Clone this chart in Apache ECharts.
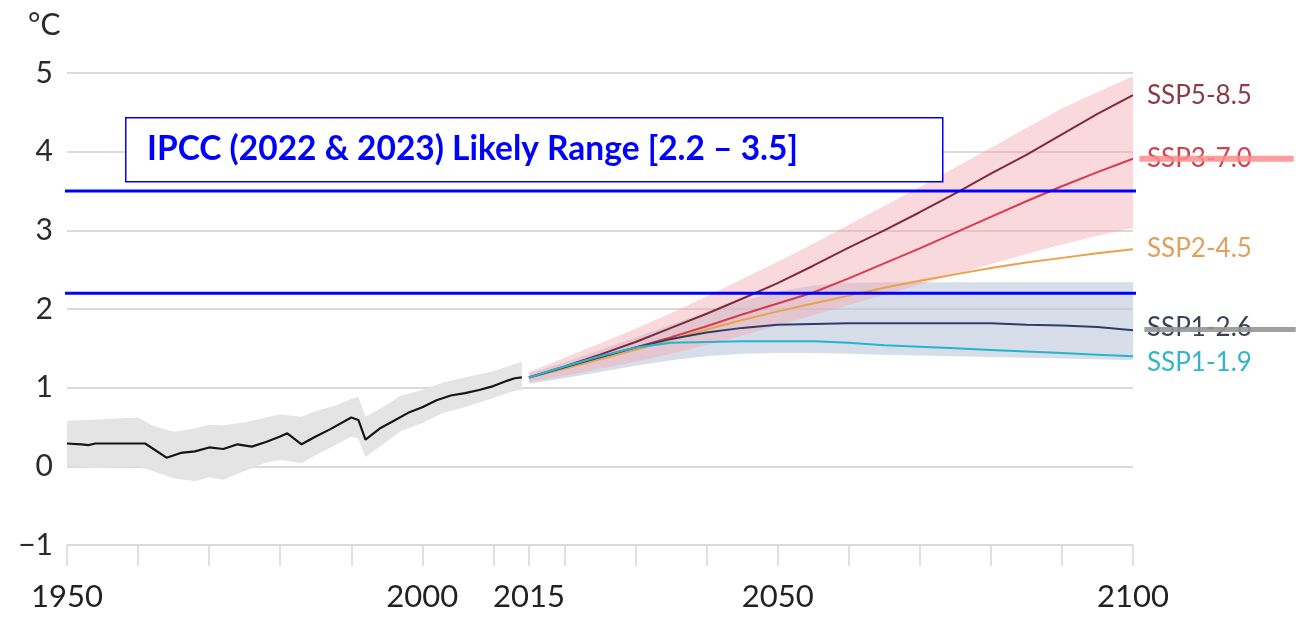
<!DOCTYPE html>
<html>
<head>
<meta charset="utf-8">
<title>Global surface temperature change</title>
<script src="https://cdn.jsdelivr.net/npm/echarts@6/dist/echarts.min.js"></script>
<style>
  html, body { margin: 0; padding: 0; background: #ffffff; }
  #chart { width: 1312px; height: 620px; }
</style>
</head>
<body>
<div id="chart"></div>
<script>
// Observed record, 1950-2014 (°C)
const histYears = [1950, 1952, 1953, 1954, 1956, 1958, 1961, 1964, 1966, 1968, 1970, 1972, 1974, 1976, 1978, 1980, 1981, 1983, 1985, 1987, 1990, 1991, 1992, 1994, 1996, 1998, 2000, 2002, 2004, 2006, 2008, 2010, 2012, 2013, 2014];
const histValues = [0.29, 0.28, 0.27, 0.29, 0.29, 0.29, 0.29, 0.11, 0.17, 0.19, 0.24, 0.22, 0.28, 0.25, 0.31, 0.38, 0.42, 0.28, 0.38, 0.47, 0.62, 0.59, 0.34, 0.48, 0.58, 0.68, 0.75, 0.84, 0.90, 0.93, 0.97, 1.02, 1.09, 1.12, 1.13];

// Observed uncertainty band
const histBandYears = [1950, 1955, 1960, 1962, 1965, 1968, 1970, 1972, 1975, 1978, 1980, 1983, 1985, 1988, 1990, 1991, 1992, 1994, 1997, 2000, 2003, 2006, 2010, 2013, 2014];
const histBandLow  = [0.00, -0.02, 0.00, -0.06, -0.15, -0.19, -0.14, -0.17, -0.06, 0.05, 0.08, 0.04, 0.14, 0.28, 0.38, 0.35, 0.12, 0.25, 0.45, 0.55, 0.68, 0.75, 0.87, 0.96, 0.97];
const histBandHigh = [0.58, 0.60, 0.62, 0.52, 0.44, 0.48, 0.53, 0.52, 0.56, 0.62, 0.66, 0.63, 0.70, 0.78, 0.86, 0.88, 0.63, 0.73, 0.90, 0.97, 1.07, 1.13, 1.21, 1.30, 1.33];

// Scenario projections, 2015-2100 (°C)
const futureYears = [2015, 2020, 2025, 2030, 2035, 2040, 2045, 2050, 2055, 2060, 2065, 2070, 2075, 2080, 2085, 2090, 2095, 2100];
const ssp585 = [1.13, 1.27, 1.42, 1.58, 1.76, 1.94, 2.13, 2.33, 2.55, 2.78, 3.00, 3.23, 3.47, 3.72, 3.96, 4.22, 4.48, 4.72];
const ssp370 = [1.13, 1.25, 1.38, 1.51, 1.64, 1.78, 1.93, 2.07, 2.21, 2.39, 2.58, 2.77, 2.97, 3.17, 3.37, 3.56, 3.74, 3.91];
const ssp245 = [1.13, 1.24, 1.36, 1.48, 1.61, 1.74, 1.86, 1.97, 2.07, 2.17, 2.27, 2.36, 2.44, 2.52, 2.59, 2.65, 2.71, 2.76];
const ssp126 = [1.13, 1.26, 1.39, 1.51, 1.62, 1.70, 1.76, 1.80, 1.81, 1.82, 1.82, 1.82, 1.82, 1.82, 1.80, 1.79, 1.77, 1.73];
const ssp119 = [1.13, 1.27, 1.40, 1.51, 1.57, 1.58, 1.59, 1.59, 1.59, 1.57, 1.54, 1.52, 1.50, 1.48, 1.46, 1.44, 1.42, 1.40];

// Very likely ranges: high-emission (red) and low-emission (blue-grey)
const highBandLow  = [1.07, 1.15, 1.24, 1.33, 1.43, 1.54, 1.66, 1.79, 1.92, 2.05, 2.18, 2.31, 2.44, 2.57, 2.70, 2.82, 2.93, 3.03];
const highBandHigh = [1.20, 1.38, 1.56, 1.75, 1.95, 2.16, 2.38, 2.60, 2.83, 3.07, 3.31, 3.55, 3.80, 4.05, 4.30, 4.55, 4.76, 4.96];
const lowBandLow   = [1.05, 1.12, 1.20, 1.28, 1.35, 1.40, 1.43, 1.44, 1.44, 1.43, 1.42, 1.41, 1.40, 1.39, 1.38, 1.37, 1.36, 1.35];
const lowBandHigh  = [1.18, 1.32, 1.48, 1.64, 1.80, 1.96, 2.10, 2.22, 2.30, 2.33, 2.34, 2.34, 2.34, 2.34, 2.34, 2.34, 2.34, 2.34];

// IPCC likely range bounds
const likelyRange = [2.2, 3.5];
const likelyRangeYears = [1949.3, 2119.8];

// Marker strokes next to two scenario labels
const markStrokes = [
  { value: 3.91, years: [2100.9, 2122.6], color: 'rgba(255,140,140,0.85)', width: 6 },
  { value: 1.74, years: [2101.6, 2122.9], color: 'rgba(150,150,150,0.9)', width: 5 }
];

// Axis ticks and labels
const xTickValues = [1950, 1960, 1970, 1980, 1990, 2000, 2010, 2015, 2020, 2030, 2040, 2050, 2060, 2070, 2080, 2090, 2100];
const xLabelValues = [1950, 2000, 2015, 2050, 2100];

const scenarios = [
  { name: 'SSP5-8.5', values: ssp585, line: '#7d2a3a', label: '#8a3a4a', offset: [0, 1] },
  { name: 'SSP3-7.0', values: ssp370, line: '#d93a4c', label: '#d0414f', offset: [0, 0] },
  { name: 'SSP2-4.5', values: ssp245, line: '#e9a24a', label: '#e0a05c', offset: [0, -1] },
  { name: 'SSP1-2.6', values: ssp126, line: '#2e3d6b', label: '#3a4258', offset: [0, -3] },
  { name: 'SSP1-1.9', values: ssp119, line: '#22b6cf', label: '#33b5c9', offset: [0, 6] }
];

const pairs = (xs, ys) => xs.map((x, i) => [x, ys[i]]);

// Shaded range between a lower and an upper curve, drawn as one polygon
function bandSeries(xs, lo, hi, color) {
  return {
    type: 'custom', silent: true, z: 1, clip: false,
    data: [[xs[0], lo[0]]],
    renderItem: (params, api) => {
      const top = xs.map((x, i) => api.coord([x, hi[i]]));
      const bottom = xs.map((x, i) => api.coord([x, lo[i]])).reverse();
      return {
        type: 'polygon',
        shape: { points: top.concat(bottom) },
        style: { fill: color }
      };
    }
  };
}

// Short horizontal stroke at a value, placed in data space
function strokeSeries(m) {
  return {
    type: 'custom', silent: true, z: 9, clip: false,
    data: [[m.years[0], m.value]],
    renderItem: (params, api) => {
      const a = api.coord([m.years[0], m.value]);
      const b = api.coord([m.years[1], m.value]);
      return {
        type: 'line',
        shape: { x1: a[0], y1: a[1], x2: b[0], y2: b[1] },
        style: { stroke: m.color, lineWidth: m.width }
      };
    }
  };
}

const chart = echarts.init(document.getElementById('chart'), null, { renderer: 'canvas' });

const series = [].concat(
  [
    bandSeries(histBandYears, histBandLow, histBandHigh, '#e4e4e4'),
    bandSeries(futureYears, lowBandLow, lowBandHigh, 'rgba(190,200,218,0.6)'),
    bandSeries(futureYears, highBandLow, highBandHigh, 'rgba(242,165,172,0.42)')
  ],
  [{
    type: 'line', name: 'Observed', data: pairs(histYears, histValues), symbol: 'none',
    lineStyle: { color: '#151515', width: 2.2 }, z: 3
  }],
  scenarios.map(s => ({
    type: 'line', name: s.name, data: pairs(futureYears, s.values), symbol: 'none',
    lineStyle: { color: s.line, width: 2 }, z: 3,
    endLabel: {
      show: true, formatter: s.name, color: s.label, fontSize: 26,
      fontFamily: 'Lato', distance: 14, offset: s.offset
    }
  })),
  likelyRange.map(v => ({
    type: 'line', data: likelyRangeYears.map(x => [x, v]), symbol: 'none', clip: false,
    lineStyle: { color: '#0000ff', width: 3.2 }, z: 8, silent: true
  })),
  markStrokes.map(strokeSeries)
);

chart.setOption({
  animation: false,
  backgroundColor: '#ffffff',
  grid: { left: 67, right: 179, top: 73, bottom: 75, containLabel: false },
  xAxis: {
    type: 'value', min: 1950, max: 2100, interval: 10,
    axisLine: { show: false, onZero: false },
    splitLine: { show: false },
    axisTick: {
      show: true, length: 21, customValues: xTickValues,
      lineStyle: { color: '#d6d6d6', width: 1.5 }
    },
    axisLabel: {
      customValues: xLabelValues, fontSize: 31, color: '#222222',
      fontFamily: 'Lato', margin: 36, formatter: v => String(v)
    }
  },
  yAxis: {
    type: 'value', min: -1, max: 5, interval: 1,
    axisLine: { show: false },
    axisTick: { show: false },
    splitLine: { lineStyle: { color: '#dadada', width: 2 } },
    axisLabel: {
      fontSize: 30, color: '#2a2a2a', fontFamily: 'Lato', margin: 14,
      formatter: v => (v < 0 ? '\u2212' + Math.abs(v) : String(v))
    }
  },
  graphic: [
    {
      type: 'text', left: 28, top: 10, z: 10,
      style: { text: '°C', fontSize: 30, fontFamily: 'Lato', fill: '#2a2a2a' }
    },
    {
      type: 'rect', left: 125, top: 117, z: 20,
      shape: { x: 0, y: 0, width: 817, height: 64 },
      style: { fill: '#ffffff', stroke: '#0000ff', lineWidth: 1.5 }
    },
    {
      type: 'text', left: 147, top: 132, z: 21,
      style: {
        text: 'IPCC (2022 & 2023) Likely Range [2.2 \u2013 3.5]',
        fontSize: 33.5, fontWeight: 'bold', fontFamily: 'Lato',
        fill: '#0000ff'
      }
    }
  ],
  series: series
});
</script>
</body>
</html>
